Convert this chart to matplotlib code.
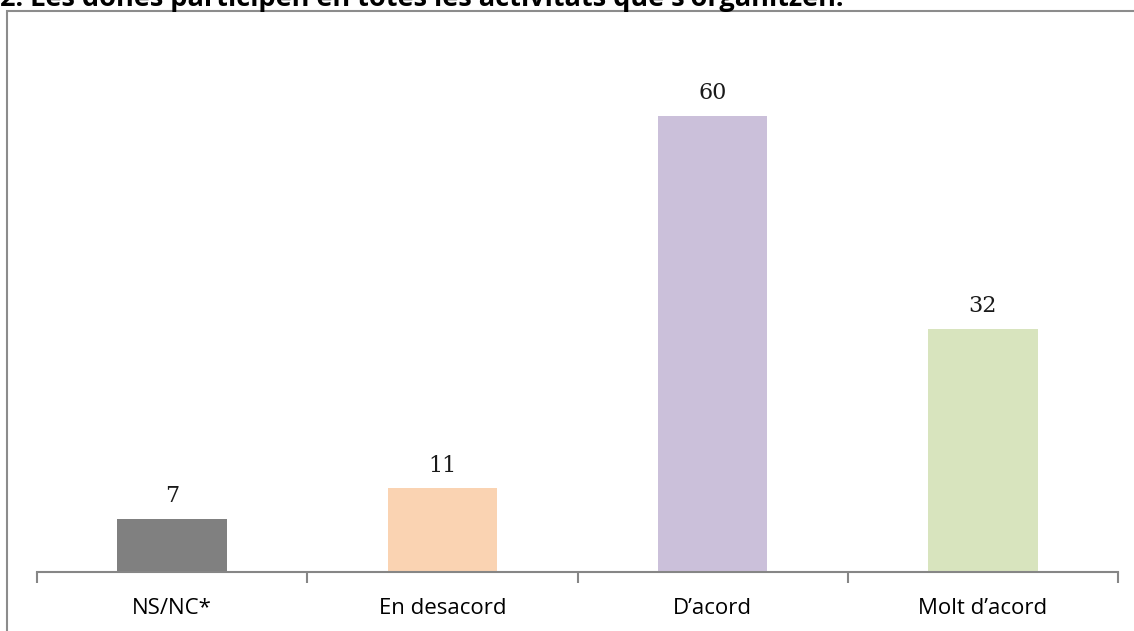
import numpy as np
import matplotlib
matplotlib.use('Agg')
import matplotlib.pyplot as plt
from matplotlib.patches import Rectangle

categories = ['NS/NC*', 'En desacord', 'D\u2019acord', 'Molt d\u2019acord']
values = [7, 11, 60, 32]
colors = ['#808080', '#FAD3B2', '#CBC0DA', '#D8E4BE']
title = '2. Les dones participen en totes les activitats que s\u2019organitzen.'

W, H = 1134, 631
fig = plt.figure(figsize=(W/100, H/100), dpi=100)

# outer chart frame (runs off the right/bottom edge like the source crop)
fig.patches.append(Rectangle((7/W, -0.1), 1.2, (H - 11)/H + 0.1,
                             transform=fig.transFigure, fill=False,
                             edgecolor='#8c8c8c', linewidth=1.5))

# title sits mostly above the visible area in the source image
fig.text(0/W, 1 - 6/H, title, ha='left', va='baseline', fontsize=19.5,
         fontweight='bold', family='Open Sans')

ax = fig.add_axes([37/W, (H - 572)/H, (1118 - 37)/W, (572 - 40)/H])
x = np.arange(len(categories))
ax.bar(x, values, width=0.405, color=colors)
ax.set_xlim(-0.5, len(categories) - 0.5)
ax.set_ylim(0, 70)

for xi, v in zip(x, values):
    ax.text(xi, v + 2.2, str(v), ha='center', va='baseline', fontsize=16,
            family='DejaVu Serif', color='#1a1a1a')

for s in ['top', 'right', 'left']:
    ax.spines[s].set_visible(False)
ax.spines['bottom'].set_color('#868686')
ax.spines['bottom'].set_linewidth(1.5)
ax.set_yticks([])
ax.set_xticks(np.arange(len(categories) + 1) - 0.5, minor=False)
ax.set_xticklabels([])
ax.tick_params(axis='x', which='major', length=8, width=1.5, color='#868686')
ax.set_xticks(x, minor=True)
ax.set_xticklabels(categories, minor=True, fontsize=16, family='Open Sans')
ax.tick_params(axis='x', which='minor', length=0, pad=19)
ax.patch.set_visible(False)

fig.savefig('out.png', dpi=100)
